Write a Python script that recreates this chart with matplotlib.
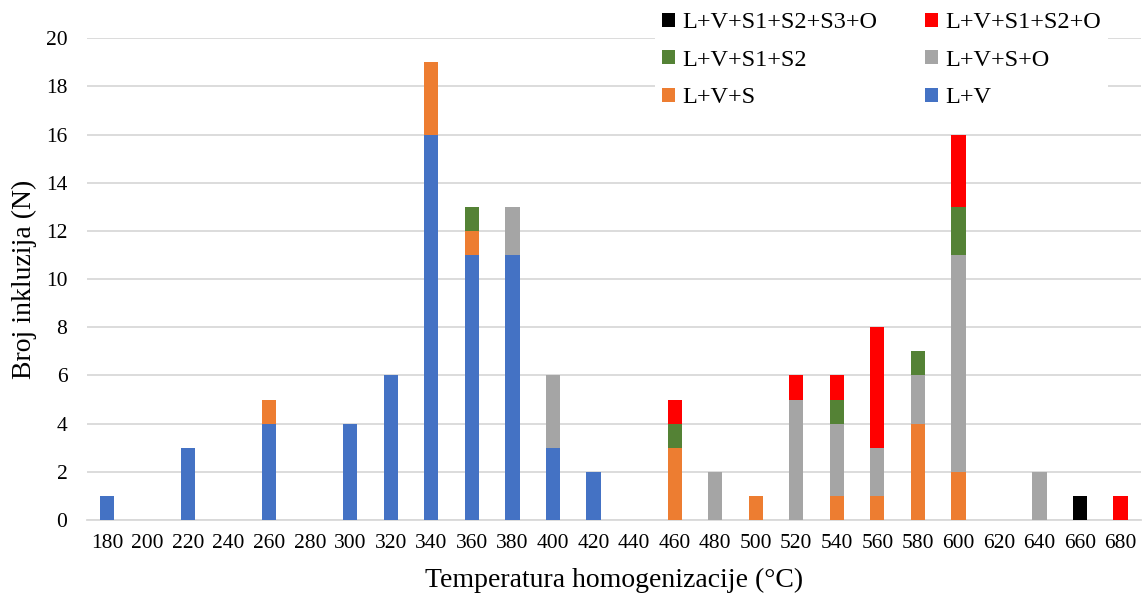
import matplotlib.pyplot as plt
import numpy as np

plt.rcParams['font.family'] = ['Liberation Serif', 'DejaVu Serif']

temps = [180, 200, 220, 240, 260, 280, 300, 320, 340, 360, 380, 400, 420,
         440, 460, 480, 500, 520, 540, 560, 580, 600, 620, 640, 660, 680]

lv = [1, 0, 3, 0, 4, 0, 4, 6, 16, 11, 11, 3, 2,
      0, 0, 0, 0, 0, 0, 0, 0, 0, 0, 0, 0, 0]
lvs = [0, 0, 0, 0, 1, 0, 0, 0, 3, 1, 0, 0, 0,
       0, 3, 0, 1, 0, 1, 1, 4, 2, 0, 0, 0, 0]
lvso = [0, 0, 0, 0, 0, 0, 0, 0, 0, 0, 2, 3, 0,
        0, 0, 2, 0, 5, 3, 2, 2, 9, 0, 2, 0, 0]
lvs1s2 = [0, 0, 0, 0, 0, 0, 0, 0, 0, 1, 0, 0, 0,
          0, 1, 0, 0, 0, 1, 0, 1, 2, 0, 0, 0, 0]
lvs1s2o = [0, 0, 0, 0, 0, 0, 0, 0, 0, 0, 0, 0, 0,
           0, 1, 0, 0, 1, 1, 5, 0, 3, 0, 0, 0, 1]
lvs1s2s3o = [0, 0, 0, 0, 0, 0, 0, 0, 0, 0, 0, 0, 0,
             0, 0, 0, 0, 0, 0, 0, 0, 0, 0, 0, 1, 0]

series = [
    ('L+V', lv, '#4472C4'),
    ('L+V+S', lvs, '#ED7D31'),
    ('L+V+S+O', lvso, '#A5A5A5'),
    ('L+V+S1+S2', lvs1s2, '#548235'),
    ('L+V+S1+S2+O', lvs1s2o, '#FF0000'),
    ('L+V+S1+S2+S3+O', lvs1s2s3o, '#000000'),
]

fig = plt.figure(figsize=(11.42, 5.96), dpi=100)
ax = fig.add_axes([0.076, 0.1275, 0.923, 0.8085])

x = np.arange(len(temps))
bottom = np.zeros(len(temps))
handles = []
for name, vals, col in series:
    b = ax.bar(x, vals, width=0.35, bottom=bottom, color=col, label=name, zorder=3)
    handles.append(b)
    bottom += np.array(vals)

ax.set_xlim(-0.5, len(temps) - 0.5)
ax.set_ylim(0, 20)
ax.set_yticks(range(0, 21, 2))
ax.set_xticks(x)
ax.set_xticklabels([str(t) for t in temps])
ax.tick_params(axis='both', length=0, labelsize=15.5)
ax.tick_params(axis='y', pad=14)
ax.tick_params(axis='x', pad=10)
ax.grid(axis='y', color='#D9D9D9', linewidth=1.3, zorder=0)
for s in ['top', 'right', 'left']:
    ax.spines[s].set_visible(False)
ax.spines['bottom'].set_color('#D9D9D9')
ax.spines['bottom'].set_linewidth(1.3)

ax.set_xlabel('Temperatura homogenizacije (°C)', fontsize=20, labelpad=11)
ax.set_ylabel('Broj inkluzija (N)', fontsize=20, labelpad=6)

# legend filled column-wise, so order to read row-wise like the reference
order = [5, 3, 1, 4, 2, 0]
leg = fig.legend([handles[i] for i in order], [series[i][0] for i in order], ncol=2,
                 loc='upper left', bbox_to_anchor=(0.563, 1.012),
                 fontsize=17.5, frameon=True, handlelength=0.5, handleheight=0.5,
                 handletextpad=0.3, columnspacing=2.0, labelspacing=0.68,
                 borderpad=0.3)
leg.get_frame().set_facecolor('white')
leg.get_frame().set_edgecolor('none')
leg.get_frame().set_alpha(1)

fig.savefig('out.png', dpi=100)
